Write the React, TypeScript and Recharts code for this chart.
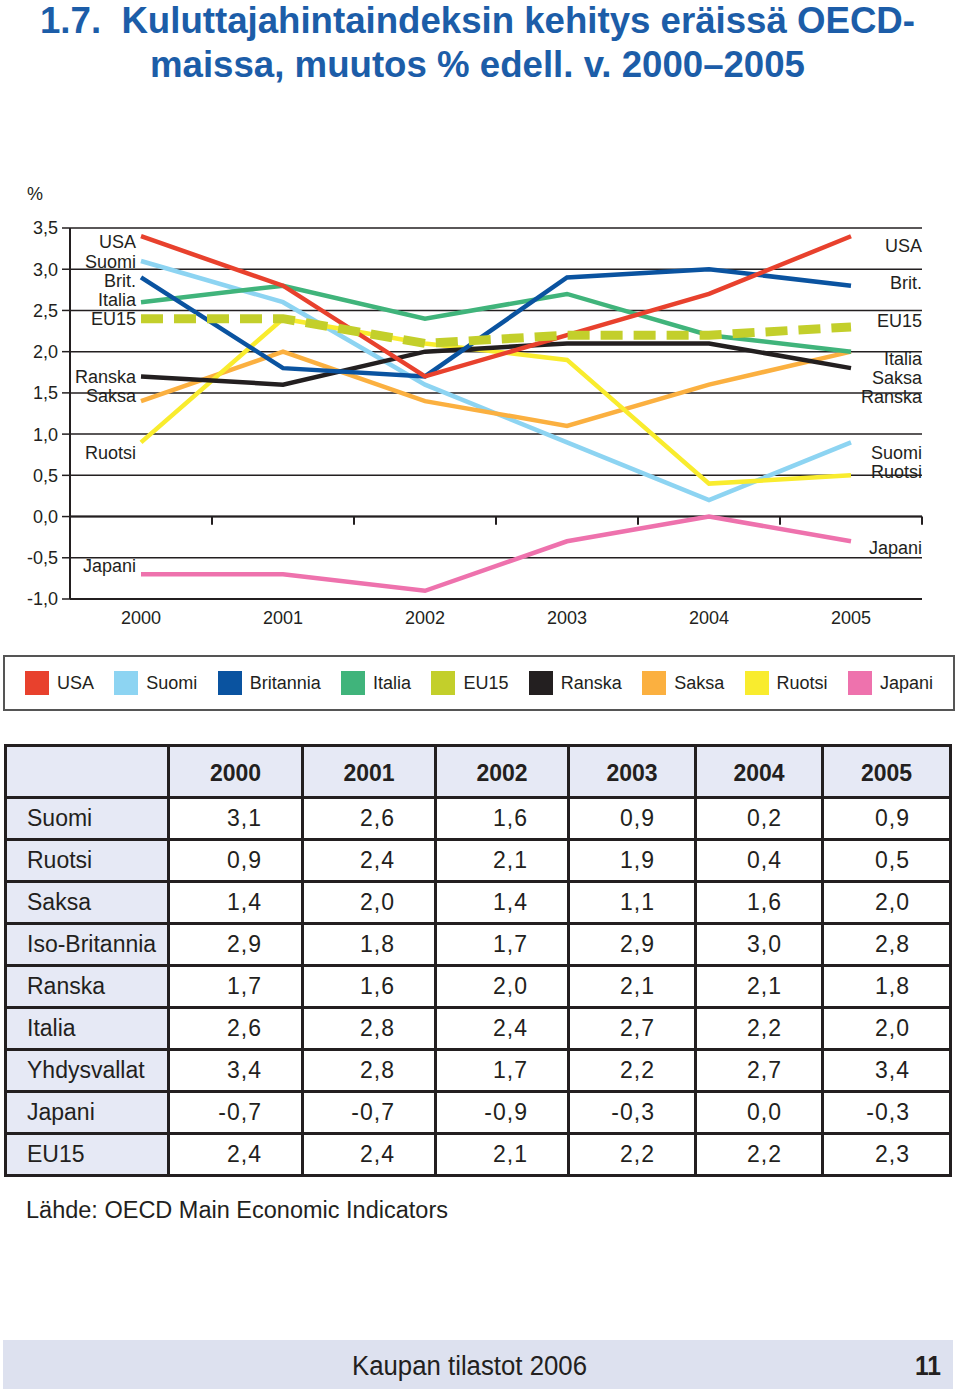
import React from 'react';
import { LineChart, Line, XAxis, YAxis, CartesianGrid, ReferenceLine, ReferenceDot } from 'recharts';

// Kuluttajahintaindeksin muutos % edelliseen vuoteen
const years = [2000, 2001, 2002, 2003, 2004, 2005];
const usa = [3.4, 2.8, 1.7, 2.2, 2.7, 3.4];
const suomi = [3.1, 2.6, 1.6, 0.9, 0.2, 0.9];
const britannia = [2.9, 1.8, 1.7, 2.9, 3.0, 2.8];
const italia = [2.6, 2.8, 2.4, 2.7, 2.2, 2.0];
const eu15 = [2.4, 2.4, 2.1, 2.2, 2.2, 2.3];
const ranska = [1.7, 1.6, 2.0, 2.1, 2.1, 1.8];
const saksa = [1.4, 2.0, 1.4, 1.1, 1.6, 2.0];
const ruotsi = [0.9, 2.4, 2.1, 1.9, 0.4, 0.5];
const japani = [-0.7, -0.7, -0.9, -0.3, 0.0, -0.3];

const yTicks = [-1, -0.5, 0, 0.5, 1, 1.5, 2, 2.5, 3, 3.5];
const halfYearTicks = [2000.5, 2001.5, 2002.5, 2003.5, 2004.5, 2005.5];

// series name labels beside the lines (value = vertical spot on the y scale)
const leftLabels = ['USA', 'Suomi', 'Brit.', 'Italia', 'EU15', 'Ranska', 'Saksa', 'Ruotsi', 'Japani'];
const leftLabelAt = [3.33, 3.09, 2.86, 2.63, 2.4, 1.7, 1.47, 0.78, -0.6];
const rightLabels = ['USA', 'Brit.', 'EU15', 'Italia', 'Saksa', 'Ranska', 'Suomi', 'Ruotsi', 'Japani'];
const rightLabelAt = [3.29, 2.84, 2.38, 1.92, 1.69, 1.46, 0.78, 0.54, -0.38];

const SERIES = [
  { key: 'usa', name: 'USA', color: '#e8412d', values: usa },
  { key: 'suomi', name: 'Suomi', color: '#8dd4f2', values: suomi },
  { key: 'britannia', name: 'Britannia', color: '#0a53a0', values: britannia },
  { key: 'italia', name: 'Italia', color: '#40b47b', values: italia },
  { key: 'eu15', name: 'EU15', color: '#c3cf2b', values: eu15 },
  { key: 'ranska', name: 'Ranska', color: '#231f20', values: ranska },
  { key: 'saksa', name: 'Saksa', color: '#fbb040', values: saksa },
  { key: 'ruotsi', name: 'Ruotsi', color: '#f9ec2e', values: ruotsi },
  { key: 'japani', name: 'Japani', color: '#ee72ad', values: japani },
];

// drawing order, back to front
const DRAW_ORDER = ['japani', 'suomi', 'saksa', 'italia', 'ruotsi', 'ranska', 'britannia', 'usa', 'eu15'];

const tableRows: [string, number[]][] = [
  ['Suomi', suomi],
  ['Ruotsi', ruotsi],
  ['Saksa', saksa],
  ['Iso-Britannia', britannia],
  ['Ranska', ranska],
  ['Italia', italia],
  ['Yhdysvallat', usa],
  ['Japani', japani],
  ['EU15', eu15],
];

const data = years.map((year, i) => {
  const row: any = { year };
  SERIES.forEach((s) => (row[s.key] = s.values[i]));
  return row;
});

const fmt = (v: number) => v.toFixed(1).replace('.', ',');
const INK = '#231f20';
const FONT = '"Liberation Sans", Arial, Helvetica, sans-serif';
const LAVENDER = '#e6e9f5';

const colWidths = [163, 134, 133, 133, 127, 127, 128];

export default function App() {
  const cell: React.CSSProperties = { border: `3px solid ${INK}`, padding: 0, fontSize: 23, color: INK };

  return (
    <div style={{ position: 'absolute', left: 0, top: 0, width: 960, height: 1398, background: '#fff', fontFamily: FONT }}>
      <svg width={960} height={100} style={{ position: 'absolute', left: 0, top: 0 }}>
        <text
          x={40}
          y={33}
          fontSize={36}
          fontWeight="bold"
          fill="#1c5da8"
          textLength={875}
          lengthAdjust="spacingAndGlyphs"
          style={{ whiteSpace: 'pre' }}
        >
          {'1.7.  Kuluttajahintaindeksin kehitys eräissä OECD-'}
        </text>
        <text x={150} y={77} fontSize={36} fontWeight="bold" fill="#1c5da8" textLength={655} lengthAdjust="spacingAndGlyphs">
          maissa, muutos % edell. v. 2000–2005
        </text>
      </svg>

      <div style={{ position: 'absolute', left: 27, top: 184, fontSize: 18, color: INK }}>%</div>

      <div style={{ position: 'absolute', left: 0, top: 180 }}>
        <LineChart width={960} height={460} data={data} margin={{ top: 48, right: 38, bottom: 11, left: 0 }}>
          <CartesianGrid vertical={false} stroke={INK} strokeWidth={1.5} />
          <XAxis
            dataKey="year"
            type="number"
            domain={[1999.5, 2005.5]}
            ticks={years}
            height={30}
            tickLine={false}
            tickMargin={6}
            axisLine={{ stroke: INK, strokeWidth: 2 }}
            tick={{ fill: INK, fontSize: 18 }}
          />
          <YAxis
            type="number"
            domain={[-1, 3.5]}
            ticks={yTicks}
            width={70}
            tickSize={8}
            tickMargin={4}
            tickFormatter={fmt}
            tickLine={{ stroke: INK, strokeWidth: 1.5 }}
            axisLine={{ stroke: INK, strokeWidth: 2 }}
            tick={{ fill: INK, fontSize: 18 }}
          />
          <ReferenceLine y={0} stroke={INK} strokeWidth={2} />
          {halfYearTicks.map((x) => (
            <ReferenceLine
              key={x}
              segment={[{ x, y: 0 }, { x, y: -0.1 }]}
              stroke={INK}
              strokeWidth={2}
            />
          ))}
          {DRAW_ORDER.map((k) => {
            const s = SERIES.find((d) => d.key === k)!;
            const dashed = k === 'eu15';
            return (
              <Line
                key={k}
                type="linear"
                dataKey={k}
                stroke={s.color}
                strokeWidth={dashed ? 9 : 4.5}
                strokeDasharray={dashed ? '22 11' : undefined}
                dot={false}
                activeDot={false}
                isAnimationActive={false}
              />
            );
          })}
          {leftLabels.map((t, i) => (
            <ReferenceDot
              key={'l' + i}
              x={2000}
              y={leftLabelAt[i]}
              r={0}
              fill="none"
              stroke="none"
              label={{ value: t, position: 'left', offset: 5, fill: INK, fontSize: 18 }}
            />
          ))}
          {rightLabels.map((t, i) => (
            <ReferenceDot
              key={'r' + i}
              x={2005.5}
              y={rightLabelAt[i]}
              r={0}
              fill="none"
              stroke="none"
              label={{ value: t, position: 'left', offset: 0, fill: INK, fontSize: 18 }}
            />
          ))}
        </LineChart>
      </div>

      {/* legend */}
      <div
        style={{
          position: 'absolute',
          left: 3,
          top: 655,
          width: 952,
          height: 56,
          boxSizing: 'border-box',
          border: '2px solid #555',
          display: 'flex',
          alignItems: 'center',
          justifyContent: 'space-between',
          paddingLeft: 20,
          paddingRight: 20,
        }}
      >
        {SERIES.map((s) => (
          <div key={s.key} style={{ display: 'flex', alignItems: 'center' }}>
            <div style={{ width: 24, height: 24, background: s.color, marginRight: 8 }} />
            <span style={{ fontSize: 18, color: INK }}>{s.name}</span>
          </div>
        ))}
      </div>

      {/* table */}
      <table
        style={{
          position: 'absolute',
          left: 4,
          top: 744,
          width: 947,
          borderCollapse: 'collapse',
          tableLayout: 'fixed',
          fontFamily: FONT,
        }}
      >
        <colgroup>
          {colWidths.map((w, i) => (
            <col key={i} style={{ width: w }} />
          ))}
        </colgroup>
        <tbody>
          <tr style={{ height: 52 }}>
            <td style={{ ...cell, background: LAVENDER }} />
            {years.map((y) => (
              <td key={y} style={{ ...cell, background: LAVENDER, textAlign: 'center', fontWeight: 'bold', paddingTop: 4 }}>
                {y}
              </td>
            ))}
          </tr>
          {tableRows.map(([name, vals]) => (
            <tr key={name} style={{ height: 42 }}>
              <td style={{ ...cell, background: LAVENDER, paddingLeft: 20 }}>{name}</td>
              {vals.map((v, i) => (
                <td key={i} style={{ ...cell, textAlign: 'right', paddingRight: 39, letterSpacing: 1 }}>
                  {fmt(v)}
                </td>
              ))}
            </tr>
          ))}
        </tbody>
      </table>

      <svg width={960} height={260} style={{ position: 'absolute', left: 0, top: 1138 }}>
        <text x={26} y={80} fontSize={23} fill={INK} textLength={422} lengthAdjust="spacingAndGlyphs">
          Lähde: OECD Main Economic Indicators
        </text>
        <rect x={3} y={202} width={950} height={49} fill="#dde1ef" />
        <text x={352} y={237} fontSize={27} fill={INK} textLength={235} lengthAdjust="spacingAndGlyphs">
          Kaupan tilastot 2006
        </text>
        <text x={915} y={237} fontSize={27} fontWeight="bold" fill={INK} textLength={26} lengthAdjust="spacingAndGlyphs">
          11
        </text>
      </svg>
    </div>
  );
}
